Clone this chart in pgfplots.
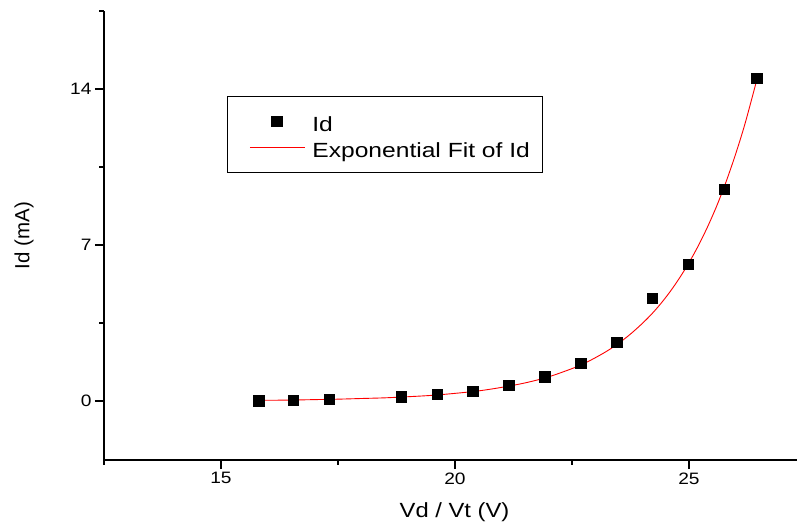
\documentclass[border=0pt]{standalone}
\usepackage{pgfplots}
\pgfplotsset{compat=1.18}
\usepackage{fontspec}
\setmainfont{Liberation Sans}[FakeStretch=1.16]
\newfontfamily\plainsans{Liberation Sans}
\newfontfamily\widesans{Liberation Sans}[FakeStretch=1.2]
\pgfplotsset{
 marklegend/.style={legend image code/.code={\path[draw=none,fill=none] (-9bp,0bp) -- (63bp,0bp); \draw[##1] plot coordinates {(27.5bp,0bp)};}},
 linelegend/.style={legend image code/.code={\path[draw=none,fill=none] (-9bp,0bp) -- (63bp,0bp); \node[inner sep=0pt, text height=0.5bp, text depth=0.5bp, anchor=base west] at (0bp,0bp) {\textcolor{red}{\rule[-0.5bp]{55bp}{1bp}}};}},
}
\begin{document}
\begin{tikzpicture}
\path[use as bounding box] (-104bp,-67bp) rectangle (693bp,460bp);
\begin{axis}[
 at={(0,0)}, anchor=south west,
 scale only axis, width=693bp, height=449bp,
 xmin=12.5, xmax=27.31, ymin=-2.65, ymax=17.5,
 axis x line*=bottom, axis y line*=left,
 axis line style={line width=1.3bp, -},
 tick align=outside,
 xtick={15,20,25}, minor xtick={12.5,17.5,22.5},
 ytick={0,7,14}, minor ytick={3.5,10.5,17.5},
 major tick length=9bp, minor tick length=4.5bp,
 every tick/.style={black, line width=1.3bp},
 tick label style={font=\fontsize{16.5bp}{19bp}\selectfont},
 /pgf/number format/assume math mode=true,
 xlabel={Vd / Vt (V)}, ylabel={\plainsans Id (mA)},
 label style={font=\fontsize{20.5bp}{24bp}\selectfont},
 xlabel style={at={(axis description cs:0.5058,-0.1169)}, anchor=center},
 ylabel style={at={(axis description cs:-0.1154,0.5)}, anchor=center},
 legend style={at={(axis description cs:0.1775,0.8107)}, anchor=north west,
   draw=black, line width=0.8bp, inner xsep=13bp, inner ysep=12bp, row sep=0bp,
   font=\widesans\fontsize{20.5bp}{24bp}\selectfont,
   nodes={inner xsep=0bp, inner ysep=0bp, text height=22.7bp, text depth=3.3bp}},
 legend cell align=left,
]
\addplot[only marks, mark=square*, mark size=5.2bp, black, marklegend]
 coordinates {
 (15.81,0.02) (16.54,0.03) (17.31,0.08) (18.85,0.19) (19.62,0.29) (20.38,0.45)
 (21.15,0.72) (21.92,1.08) (22.69,1.70) (23.46,2.65) (24.21,4.62) (24.98,6.15)
 (25.75,9.51) (26.45,14.49)
 };
\addlegendentry{Id}
\addplot[red, line width=0.9bp, smooth, linelegend]
 coordinates {
 (15.81,0.03) (16.0,0.03) (16.5,0.04) (17.0,0.06) (17.5,0.08) (18.0,0.11)
 (18.5,0.14) (19.0,0.19) (19.5,0.25) (20.0,0.34) (20.5,0.45) (21.0,0.61)
 (21.5,0.81) (22.0,1.08) (22.5,1.45) (22.75,1.67) (23.0,1.94) (23.25,2.24)
 (23.5,2.59) (23.75,3.00) (24.0,3.47) (24.2,3.89) (24.4,4.37) (24.6,4.91)
 (24.8,5.52) (25.0,6.20) (25.2,6.96) (25.4,7.82) (25.6,8.78) (25.8,9.87)
 (26.0,11.09) (26.2,12.45) (26.45,14.40)
 };
\addlegendentry{Exponential Fit of Id}
\end{axis}
\end{tikzpicture}
\end{document}
